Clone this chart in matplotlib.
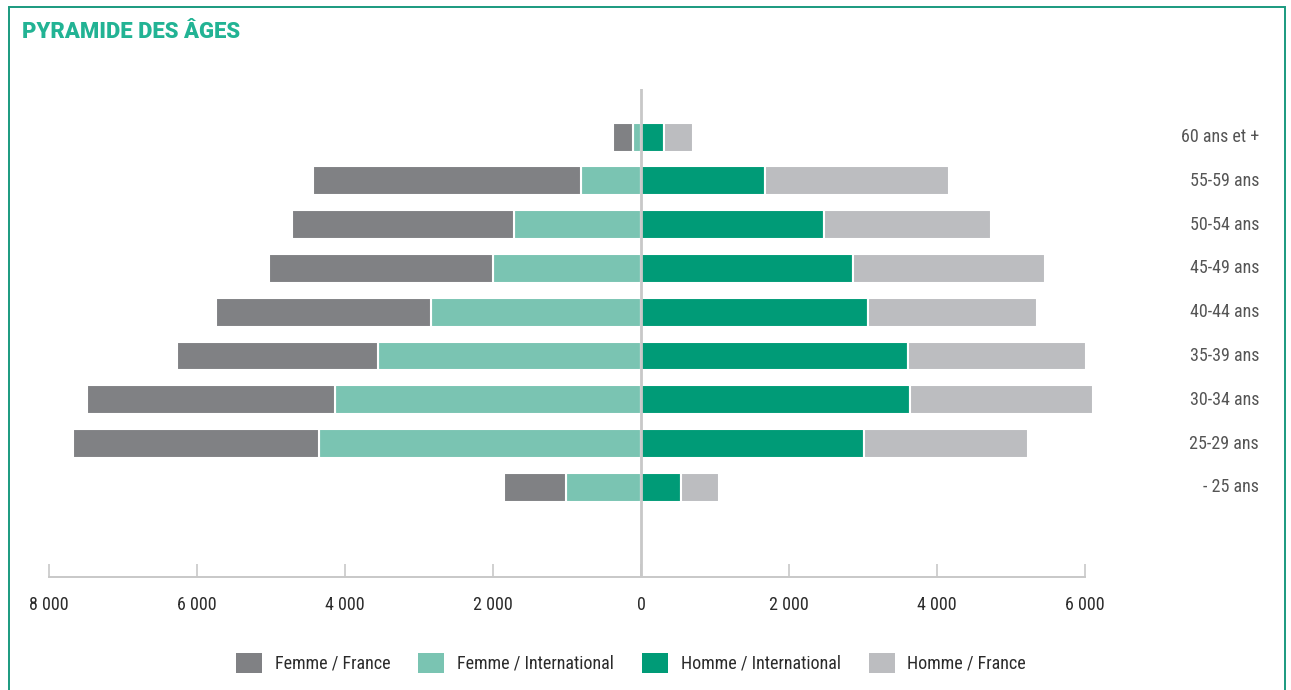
import matplotlib
matplotlib.use("Agg")
import matplotlib.pyplot as plt
from matplotlib.patches import Patch, Rectangle
from matplotlib.ticker import FixedLocator, FuncFormatter
from matplotlib.transforms import blended_transform_factory

# age groups, bottom to top (the first row is an unlabeled near-empty group)
ages = ["", "- 25 ans", "25-29 ans", "30-34 ans", "35-39 ans", "40-44 ans",
        "45-49 ans", "50-54 ans", "55-59 ans", "60 ans et +"]
femme_intl = [10, 1015, 4350, 4135, 3555, 2840, 2000, 1715, 810, 110]
femme_france = [0, 835, 3325, 3350, 2715, 2905, 3025, 3000, 3620, 270]
homme_intl = [0, 540, 3015, 3635, 3610, 3070, 2865, 2475, 1675, 310]
homme_france = [0, 515, 2215, 2475, 2405, 2280, 2595, 2255, 2490, 390]

series = ["Femme / France", "Femme / International",
          "Homme / International", "Homme / France"]
colors = ["#808184", "#7ac4b2", "#009b77", "#bcbdc0"]

ticks = [-8000, -6000, -4000, -2000, 0, 2000, 4000, 6000]

plt.rcParams["font.family"] = ["Roboto Condensed", "DejaVu Sans"]

W, H = 1291, 690
fig = plt.figure(figsize=(W / 100, H / 100), dpi=100)

# teal frame around the panel
fig.patches.append(Rectangle((9 / W, -0.05), (1285 - 9) / W, 1.05 - 7 / H,
                             transform=fig.transFigure, fill=False,
                             edgecolor="#1a9a7f", linewidth=1.4))
fig.text(22 / W, 1 - 32 / H, "PYRAMIDE DES ÂGES", family=["Roboto", "DejaVu Sans"],
         weight=900, fontsize=15.8, color="#22b394", va="center", ha="left")

ax = fig.add_axes([49 / W, 1 - 577 / H, (1085 - 49) / W, (577 - 89) / H])
y = list(range(len(ages)))
bh = 0.66
kw = dict(height=bh, edgecolor="white", linewidth=1.5, clip_on=False)

fi_neg = [-v for v in femme_intl]
ff_neg = [-v for v in femme_france]
ax.barh(y, fi_neg, color=colors[1], **kw)
ax.barh(y, ff_neg, left=fi_neg, color=colors[0], **kw)
ax.barh(y, homme_intl, color=colors[2], **kw)
ax.barh(y, homme_france, left=homme_intl, color=colors[3], **kw)

ax.axvline(0, color="#c8c8c8", linewidth=2, zorder=5)

ax.set_xlim(-8000, 6000)
ax.set_ylim(-1.05, 10.1)

for s in ["top", "left", "right"]:
    ax.spines[s].set_visible(False)
ax.spines["bottom"].set_color("#c8c8c8")
ax.spines["bottom"].set_linewidth(1.4)

ax.xaxis.set_major_locator(FixedLocator(ticks))
ax.xaxis.set_major_formatter(
    FuncFormatter(lambda v, p: f"{abs(int(v)):,}".replace(",", " ")))
ax.tick_params(axis="x", direction="in", length=9.5, width=1.2,
               color="#c8c8c8", pad=14, labelsize=13, labelcolor="#2b2b2b")
ax.set_yticks([])

# age labels: figure-x, data-y coordinates
lab_tr = blended_transform_factory(fig.transFigure, ax.transData)
for yi, lab in zip(y, ages):
    ax.text(1259 / W, yi, lab, transform=lab_tr,
            fontsize=13, color="#555555", ha="right", va="center")

handles = [Patch(facecolor=c, edgecolor="none") for c in colors]
fig.legend(handles, series, loc="center", bbox_to_anchor=(631 / W, 1 - 663 / H),
           ncol=4, frameon=False, fontsize=13, handlelength=1.45,
           handleheight=1.3, handletextpad=0.7, columnspacing=1.55,
           labelcolor="#2b2b2b")

fig.savefig("out.png", dpi=100)
